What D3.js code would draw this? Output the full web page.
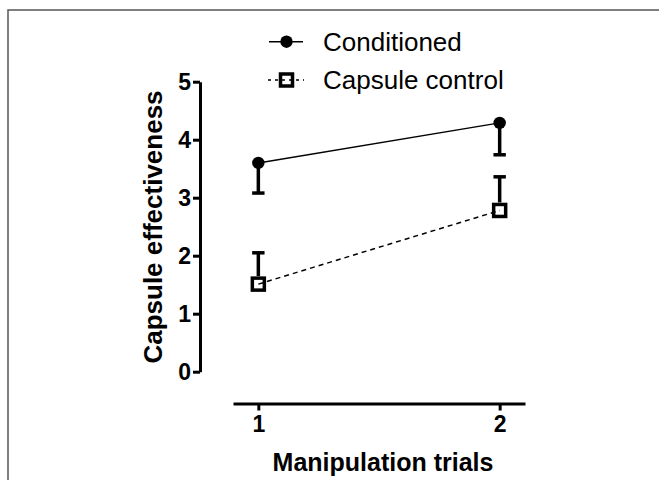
<!DOCTYPE html>
<html>
<head>
<meta charset="utf-8">
<script src="https://cdn.jsdelivr.net/npm/d3@7"></script>
<style>
  body { margin: 0; background: #fff; }
  svg { display: block; font-family: "Liberation Sans", Arial, sans-serif; }
  .axis path, .axis line { stroke: #000; stroke-width: 3; }
</style>
</head>
<body>
<div id="chart"></div>
<script>
// values
let trials = [1, 2];
let tickLabelsX = ["1", "2"];
let ticksY = [0, 1, 2, 3, 4, 5];
let conditioned = [3.6, 4.29];
let conditionedErr = [0.52, 0.55];   // drawn downward
let capsuleControl = [1.51, 2.78];
let capsuleControlErr = [0.54, 0.58]; // drawn upward
let seriesNames = ["Conditioned", "Capsule control"];

let W = 659, H = 480;

let svg = d3.select("#chart")
  .append("svg")
    .attr("width", W)
    .attr("height", H);

svg.append("rect").attr("width", W).attr("height", H).attr("fill", "#fff");

// grey frame (top and left only)
svg.append("path")
  .attr("d", "M8," + H + "V10H" + W)
  .attr("fill", "none")
  .attr("stroke", "#555")
  .attr("stroke-width", 1.5);

let y = d3.scaleLinear()
  .domain([0, 5])
  .range([371.7, 81.7]);

let x = d3.scaleLinear()
  .domain([0.895, 2.105])
  .range([233, 525]);

// Y axis
let yAxis = d3.axisLeft(y)
  .tickValues(ticksY)
  .tickFormat(d3.format("d"))
  .tickSize(7)
  .tickSizeOuter(0)
  .tickPadding(2);

svg.append("g")
  .attr("class", "axis")
  .attr("transform", "translate(200,0)")
  .call(yAxis)
  .selectAll("text")
    .style("font-size", "23px")
    .style("font-weight", "bold")
    .style("font-family", "Liberation Sans, Arial, sans-serif")
    .attr("fill", "#000");

// X axis, detached from the y axis
let xAxis = d3.axisBottom(x)
  .tickValues(trials)
  .tickFormat(function(d, i) { return tickLabelsX[i]; })
  .tickSize(7)
  .tickSizeOuter(0)
  .tickPadding(5);

svg.append("g")
  .attr("class", "axis")
  .attr("transform", "translate(0,403.5)")
  .call(xAxis)
  .selectAll("text")
    .style("font-size", "23px")
    .style("font-weight", "bold")
    .style("font-family", "Liberation Sans, Arial, sans-serif")
    .attr("fill", "#000");

// axis titles
svg.append("text")
  .attr("transform", "translate(161.6,227) rotate(-90)")
  .attr("text-anchor", "middle")
  .style("font-size", "26px")
  .style("font-weight", "bold")
  .text("Capsule effectiveness");

svg.append("text")
  .attr("x", 383)
  .attr("y", 471)
  .attr("text-anchor", "middle")
  .style("font-size", "25px")
  .style("font-weight", "bold")
  .text("Manipulation trials");

let line = d3.line()
  .x(function(d, i) { return x(trials[i]); })
  .y(function(d) { return y(d); });

// connecting lines
svg.append("path")
  .datum(conditioned)
  .attr("d", line)
  .attr("fill", "none")
  .attr("stroke", "#000")
  .attr("stroke-width", 1.5);

svg.append("path")
  .datum(capsuleControl)
  .attr("d", line)
  .attr("fill", "none")
  .attr("stroke", "#000")
  .attr("stroke-width", 1.5)
  .attr("stroke-dasharray", "5,4");

// error bars
function errorBars(vals, errs, dir, startOff) {
  let g = svg.append("g").attr("stroke", "#000").attr("stroke-width", 3.5);
  vals.forEach(function(v, i) {
    let cx = x(trials[i]);
    let end = y(v + dir * errs[i]);
    g.append("line")
      .attr("x1", cx).attr("x2", cx)
      .attr("y1", y(v) - dir * startOff).attr("y2", end);
    g.append("line")
      .attr("x1", cx - 6.2).attr("x2", cx + 6.2)
      .attr("y1", end).attr("y2", end);
  });
}
errorBars(conditioned, conditionedErr, -1, 0);
errorBars(capsuleControl, capsuleControlErr, 1, 8);

// markers
svg.selectAll(".dot")
  .data(conditioned)
  .enter()
  .append("circle")
    .attr("cx", function(d, i) { return x(trials[i]); })
    .attr("cy", function(d) { return y(d); })
    .attr("r", 6.2)
    .attr("fill", "#000");

svg.selectAll(".sq")
  .data(capsuleControl)
  .enter()
  .append("rect")
    .attr("x", function(d, i) { return x(trials[i]) - 6; })
    .attr("y", function(d) { return y(d) - 6; })
    .attr("width", 12)
    .attr("height", 12)
    .attr("fill", "none")
    .attr("stroke", "#000")
    .attr("stroke-width", 3.5);

// legend
let legend = svg.append("g");
let legY = [41.7, 80];

legend.append("line")
  .attr("x1", 269).attr("x2", 303)
  .attr("y1", legY[0]).attr("y2", legY[0])
  .attr("stroke", "#000").attr("stroke-width", 1.5);
legend.append("circle")
  .attr("cx", 286.5).attr("cy", legY[0]).attr("r", 6.2)
  .attr("fill", "#000");

legend.append("line")
  .attr("x1", 268).attr("x2", 304)
  .attr("y1", legY[1]).attr("y2", legY[1])
  .attr("stroke", "#000").attr("stroke-width", 1.5)
  .attr("stroke-dasharray", "3,4");
legend.append("rect")
  .attr("x", 286.5 - 6).attr("y", legY[1] - 6)
  .attr("width", 12).attr("height", 12)
  .attr("fill", "none").attr("stroke", "#000").attr("stroke-width", 3.5);

legend.selectAll(".lt")
  .data(seriesNames)
  .enter()
  .append("text")
    .attr("x", 323)
    .attr("y", function(d, i) { return legY[i]; })
    .attr("dy", "0.36em")
    .style("font-size", "26px")
    .text(function(d) { return d; });
</script>
</body>
</html>
